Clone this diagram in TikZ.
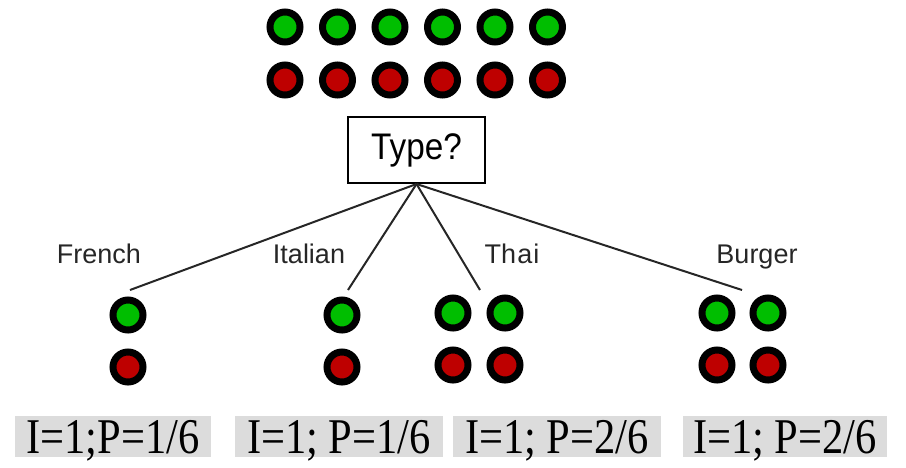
\documentclass[tikz,border=0pt]{standalone}
\usepackage{fontspec}
\setmainfont{Liberation Serif}
\newfontfamily\labelfont{Liberation Sans}
\usepackage{graphicx}
\definecolor{dotgreen}{RGB}{0,190,0}
\definecolor{dotred}{RGB}{190,0,0}
\definecolor{labgray}{RGB}{220,220,220}
\begin{document}
\begin{tikzpicture}[x=1pt,y=-1pt,
  dot/.style={circle,draw=black,line width=7pt,minimum size=30pt,inner sep=0pt},
  gdot/.style={dot,fill=dotgreen},
  rdot/.style={dot,fill=dotred},
  branch/.style={anchor=base,font=\labelfont\fontsize{27}{27}\selectfont,text=black!85,inner sep=0pt},
  conn/.style={line width=2pt,black!85},
  result/.style={fill=labgray,inner sep=0pt,minimum height=41pt},
  restext/.style={anchor=base,inner sep=0pt,font=\fontsize{50}{50}\selectfont}]
\useasboundingbox (0,0) rectangle (906,467);
% top population
\foreach \i in {0,...,5}{
  \node[gdot] (g\i) at ({285+52.5*\i},27) {};
  \node[rdot] (r\i) at ({285+52.5*\i},80) {};
}
% question box
\node[draw=black,line width=2pt,minimum width=137pt,minimum height=66pt,inner sep=0pt,
      font=\labelfont\fontsize{37}{37}\selectfont] (type) at (416.5,150) {\scalebox{0.9}[1]{Type?}};
% branch labels
\node[branch] (lfr) at (99,263) {French};
\node[branch] (lit) at (309,263) {Italian};
\node[branch] (lth) at (512,263) {Th\kern1pt a\kern1pt i};
\node[branch] (lbu) at (757,263) {Burger};
% leaves
\node[gdot] (frg) at (128,315) {};
\node[rdot] (frr) at (128,367) {};
\node[gdot] (itg) at (342,315) {};
\node[rdot] (itr) at (342,367) {};
\node[gdot] (thg1) at (453,313) {};
\node[gdot] (thg2) at (505,313) {};
\node[rdot] (thr1) at (453,365) {};
\node[rdot] (thr2) at (505,365) {};
\node[gdot] (bug1) at (717,313) {};
\node[gdot] (bug2) at (768,313) {};
\node[rdot] (bur1) at (717,365) {};
\node[rdot] (bur2) at (768,365) {};
% connector end points
\coordinate (efr) at (130,290);
\coordinate (eit) at (348,290);
\coordinate (eth) at (480,290);
\coordinate (ebu) at (742,290);
\draw[conn] (type.south) -- (efr);
\draw[conn] (type.south) -- (eit);
\draw[conn] (type.south) -- (eth);
\draw[conn] (type.south) -- (ebu);
% results
\node[result,minimum width=196pt] (b1) at (113,436.5) {};
\node[result,minimum width=208pt] (b2) at (339,436.5) {};
\node[result,minimum width=208pt] (b3) at (557,436.5) {};
\node[result,minimum width=204pt] (b4) at (785,436.5) {};
\node[restext] (t1) at (113,453) {\scalebox{0.85}[1]{I=1;P=1/6}};
\node[restext] (t2) at (339,453) {\scalebox{0.85}[1]{I=1; P=1/6}};
\node[restext] (t3) at (557,453) {\scalebox{0.85}[1]{I=1; P=2/6}};
\node[restext] (t4) at (785,453) {\scalebox{0.85}[1]{I=1; P=2/6}};
\end{tikzpicture}
\end{document}
